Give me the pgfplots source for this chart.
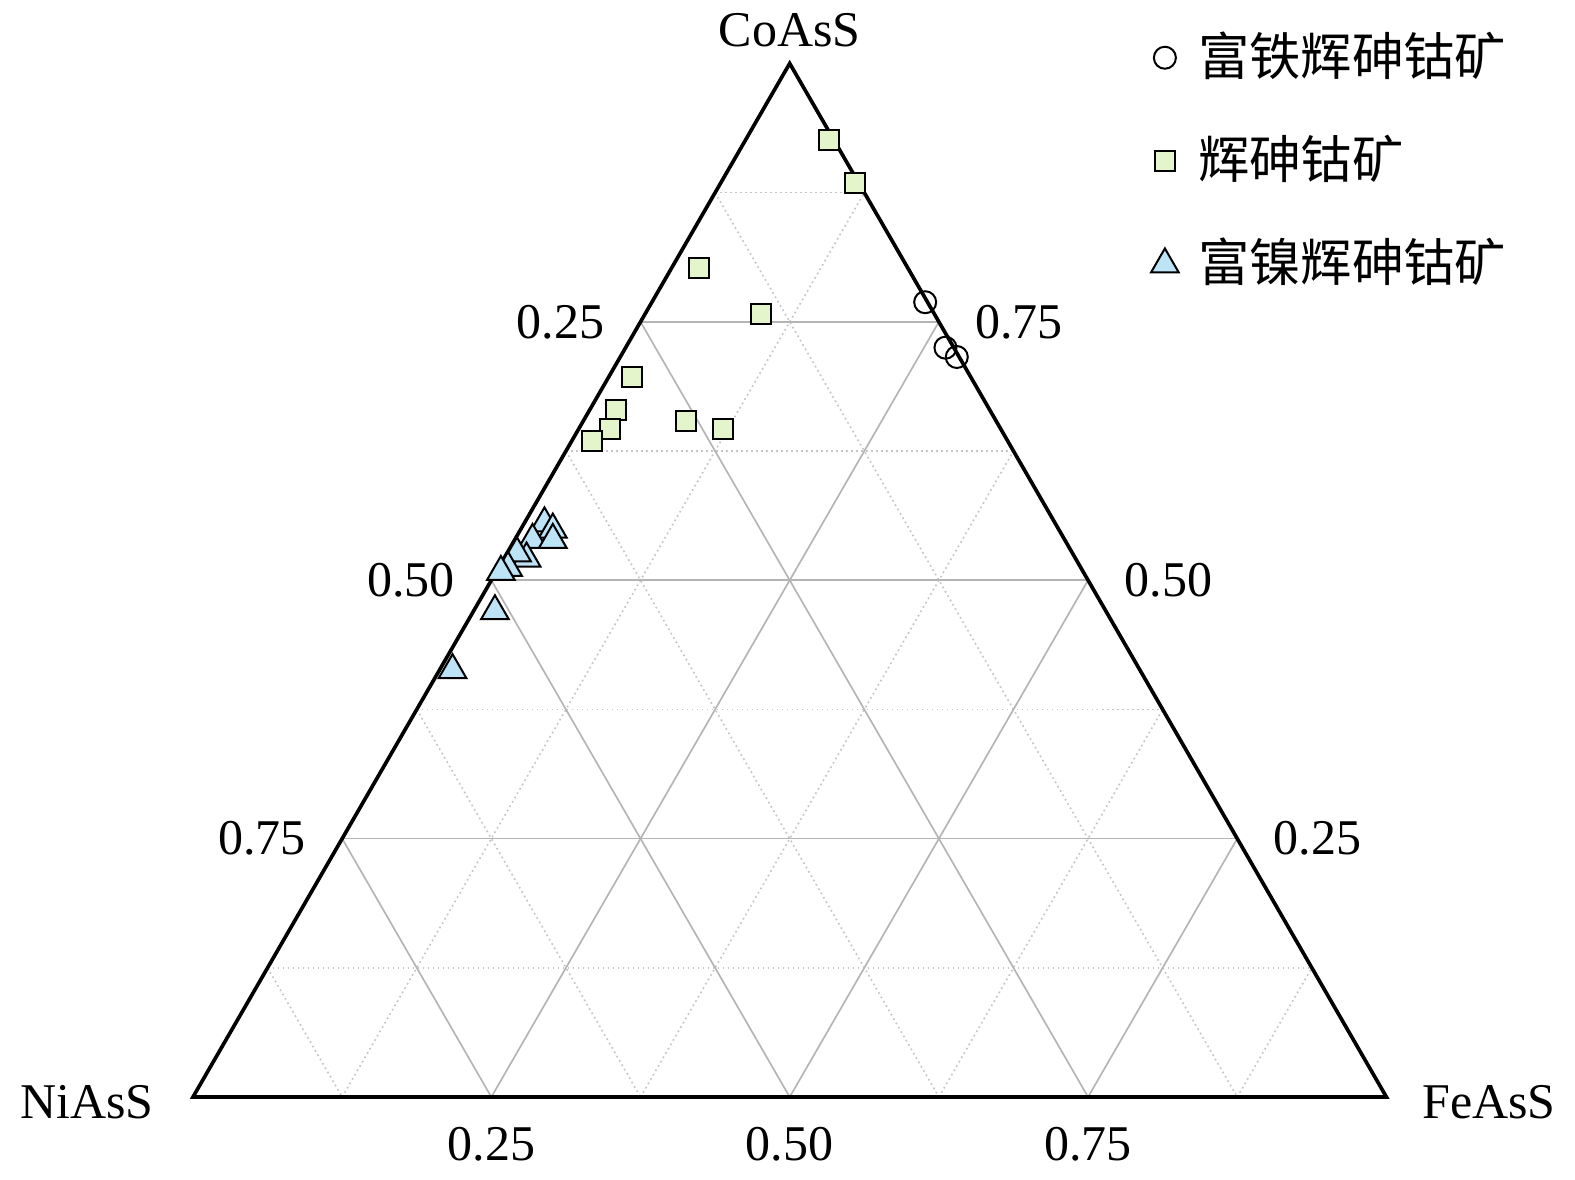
\documentclass[border=0pt]{standalone}
\usepackage{fontspec}
\setmainfont{Liberation Serif}
\newfontfamily\cjk{Noto Sans CJK SC}
\usepackage{pgfplots}
\usepackage{pgfplotstable}
\pgfplotsset{compat=1.18}
\definecolor{sqfill}{HTML}{E4F5CB}
\definecolor{trifill}{HTML}{BDE3F7}
\definecolor{majgrid}{HTML}{B4B4B4}
\definecolor{mingrid}{HTML}{C4C4C4}

% ternary fractions: ni = NiAsS, fe = FeAsS, co = CoAsS
\pgfplotstableread{
ni fe co
0.002 0.229 0.769
0.007 0.268 0.725
0.002 0.282 0.716
}\feRich
\pgfplotstableread{
ni fe co
0.004 0.070 0.926
0.003 0.113 0.884
0.175 0.023 0.802
0.145 0.097 0.758
0.284 0.019 0.697
0.313 0.022 0.665
0.328 0.026 0.646
0.348 0.017 0.635
0.260 0.086 0.654
0.233 0.121 0.646
}\cobaltite
\pgfplotstableread{
ni fe co
0.428 0.017 0.555
0.424 0.027 0.549
0.446 0.015 0.539
0.429 0.032 0.539
0.460 0.019 0.521
0.466 0.0085 0.526
0.480 0.008 0.512
0.488 0.004 0.508
0.512 0.018 0.470
0.576 0.011 0.413
}\niRich

\begin{document}
\begin{tikzpicture}[font=\fontsize{15}{18}\selectfont]
\begin{axis}[
  x=358pt, y=358pt,
  xmin=-0.1617, xmax=1.158, ymin=-0.0687, ymax=0.9192,
  hide axis, clip=false,
  legend style={draw=none, fill=none, inner sep=0pt,
    at={(0.7304,0.9735)}, anchor=north west,
    font=\fontsize{15.4}{18}\selectfont, row sep=15.5pt, column sep=5.8pt,
    nodes={inner sep=0pt, text height=13pt, text depth=2.5pt}},
  legend cell align=left,
]
\path (-0.1617,-0.0687) rectangle (1.158,0.9192);
% minor grid
\begin{scope}[mingrid, densely dotted, line width=0.5pt]
\draw (0.0625,0.108253) -- (0.9375,0.108253);
\draw (0.1875,0.32476) -- (0.8125,0.32476);
\draw (0.3125,0.541266) -- (0.6875,0.541266);
\draw (0.4375,0.757772) -- (0.5625,0.757772);
\draw (0.4375,0.757772) -- (0.875,0);
\draw (0.3125,0.541266) -- (0.625,0);
\draw (0.1875,0.32476) -- (0.375,0);
\draw (0.0625,0.108253) -- (0.125,0);
\draw (0.125,0) -- (0.5625,0.757772);
\draw (0.375,0) -- (0.6875,0.541266);
\draw (0.625,0) -- (0.8125,0.32476);
\draw (0.875,0) -- (0.9375,0.108253);
\end{scope}
% major grid
\begin{scope}[majgrid, line width=0.5pt]
\draw (0.125,0.216506) -- (0.875,0.216506);
\draw (0.25,0.433013) -- (0.75,0.433013);
\draw (0.375,0.649519) -- (0.625,0.649519);
\draw (0.375,0.649519) -- (0.75,0);
\draw (0.25,0.433013) -- (0.5,0);
\draw (0.125,0.216506) -- (0.25,0);
\draw (0.25,0) -- (0.625,0.649519);
\draw (0.5,0) -- (0.75,0.433013);
\draw (0.75,0) -- (0.875,0.216506);
\end{scope}
% frame
\draw[black, line width=1.1pt, line join=miter] (0,0) -- (1,0) -- (0.5,0.866025) -- cycle;
% labels
\begin{scope}[every node/.style={inner sep=0pt}]
\node[anchor=east] at (0.345,0.649519) {0.25};
\node[anchor=east] at (0.22,0.433013) {0.50};
\node[anchor=east] at (0.095,0.216506) {0.75};
\node[anchor=west] at (0.655,0.649519) {0.75};
\node[anchor=west] at (0.78,0.433013) {0.50};
\node[anchor=west] at (0.905,0.216506) {0.25};
\node at (0.25,-0.0395) {0.25};
\node at (0.5,-0.0395) {0.50};
\node at (0.75,-0.0395) {0.75};
\node at (0.5,0.894) {CoAsS};
\node at (-0.0888,-0.0043) {NiAsS};
\node at (1.0859,-0.0043) {FeAsS};
\end{scope}
\addplot[only marks, mark=o, mark size=3.3pt, black, line width=0.6pt]
  table[x expr={\thisrow{fe}+0.5*\thisrow{co}}, y expr={0.866025*\thisrow{co}}] {\feRich};
\addlegendentry{\cjk 富铁辉砷钴矿}
\addplot[only marks, mark=square*, mark size=3pt, draw=black, fill=sqfill, line width=0.6pt]
  table[x expr={\thisrow{fe}+0.5*\thisrow{co}}, y expr={0.866025*\thisrow{co}}] {\cobaltite};
\addlegendentry{\cjk 辉砷钴矿}
\addplot[only marks, mark=triangle*, mark size=4.8pt, draw=black, fill=trifill, line width=0.6pt]
  table[x expr={\thisrow{fe}+0.5*\thisrow{co}}, y expr={0.866025*\thisrow{co}}] {\niRich};
\addlegendentry{\cjk 富镍辉砷钴矿}
\end{axis}
\end{tikzpicture}
\end{document}
